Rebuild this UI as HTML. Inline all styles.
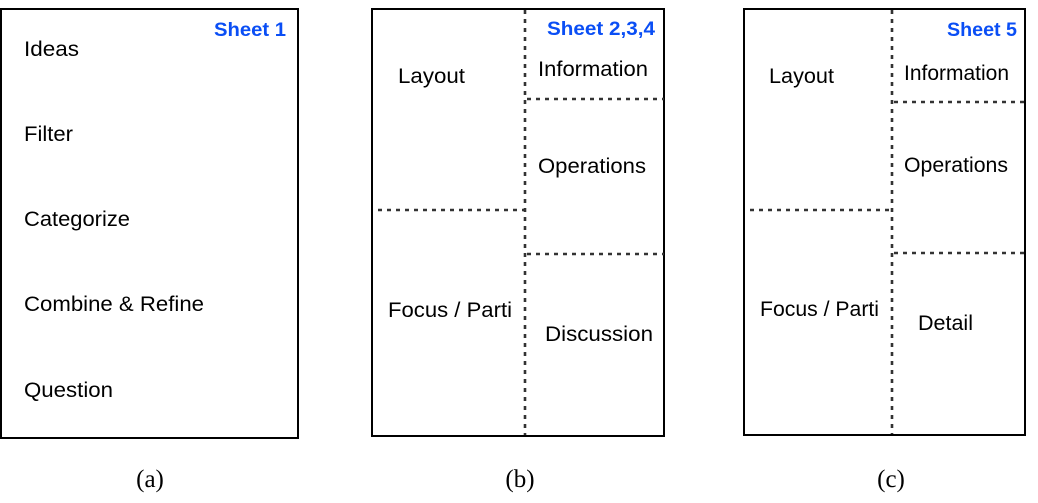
<!DOCTYPE html>
<html><head><style>
html,body{margin:0;padding:0;background:#fff;width:1038px;height:503px;overflow:hidden}
svg text{font-family:"Liberation Sans",sans-serif;}
</style></head><body>
<svg width="1038" height="503" xmlns="http://www.w3.org/2000/svg">
<g fill="none" stroke="#000" stroke-width="2">
<rect x="1" y="9" width="297" height="429"/>
<rect x="372" y="9" width="292" height="427"/>
<rect x="744" y="9" width="281" height="426"/>
</g>
<g stroke="#333" stroke-width="2.6" stroke-dasharray="4,5" fill="none">
<line x1="525" y1="10" x2="525" y2="435"/>
<line x1="527" y1="99" x2="664" y2="99"/>
<line x1="378" y1="210" x2="525" y2="210"/>
<line x1="527" y1="254" x2="664" y2="254"/>
<line x1="892" y1="10" x2="892" y2="434"/>
<line x1="894" y1="102" x2="1025" y2="102"/>
<line x1="750" y1="210" x2="892" y2="210"/>
<line x1="894" y1="253" x2="1025" y2="253"/>
</g>
<g font-size="21" fill="#000" lengthAdjust="spacingAndGlyphs">
<text x="24" y="56" textLength="55" lengthAdjust="spacingAndGlyphs">Ideas</text>
<text x="24" y="141" textLength="49" lengthAdjust="spacingAndGlyphs">Filter</text>
<text x="24" y="226" textLength="106" lengthAdjust="spacingAndGlyphs">Categorize</text>
<text x="24" y="311" textLength="180" lengthAdjust="spacingAndGlyphs">Combine &amp; Refine</text>
<text x="24" y="397" textLength="89" lengthAdjust="spacingAndGlyphs">Question</text>
<text x="398" y="83" textLength="67" lengthAdjust="spacingAndGlyphs">Layout</text>
<text x="538" y="76" textLength="110" lengthAdjust="spacingAndGlyphs">Information</text>
<text x="538" y="173" textLength="108" lengthAdjust="spacingAndGlyphs">Operations</text>
<text x="388" y="317" textLength="124" lengthAdjust="spacingAndGlyphs">Focus / Parti</text>
<text x="545" y="341" textLength="108" lengthAdjust="spacingAndGlyphs">Discussion</text>
<text x="769" y="83" textLength="65" lengthAdjust="spacingAndGlyphs">Layout</text>
<text x="904" y="80" textLength="105" lengthAdjust="spacingAndGlyphs">Information</text>
<text x="904" y="172" textLength="104" lengthAdjust="spacingAndGlyphs">Operations</text>
<text x="760" y="316" textLength="119" lengthAdjust="spacingAndGlyphs">Focus / Parti</text>
<text x="918" y="330" textLength="55" lengthAdjust="spacingAndGlyphs">Detail</text>
</g>
<g font-size="19" font-weight="bold" fill="#0a4ef5">
<text x="214" y="36" textLength="72" lengthAdjust="spacingAndGlyphs">Sheet 1</text>
<text x="547" y="35" textLength="108" lengthAdjust="spacingAndGlyphs">Sheet 2,3,4</text>
<text x="947" y="36" textLength="70" lengthAdjust="spacingAndGlyphs">Sheet 5</text>
</g>
<g font-size="25" fill="#000" text-anchor="middle">
<text x="150" y="487" style="font-family:'Liberation Serif',serif">(a)</text>
<text x="520" y="487" style="font-family:'Liberation Serif',serif">(b)</text>
<text x="891" y="487" style="font-family:'Liberation Serif',serif">(c)</text>
</g>
</svg>
</body></html>
